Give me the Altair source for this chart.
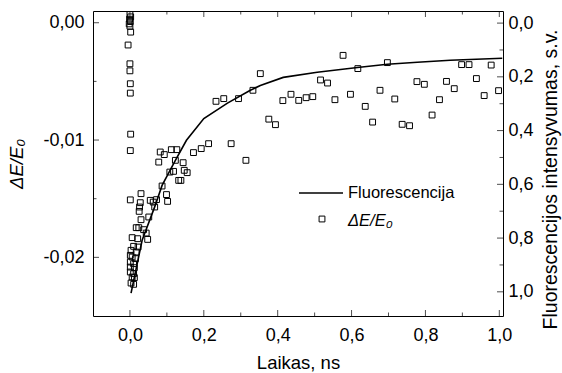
import altair as alt
import pandas as pd

# ---- data ----
t_scatter = [
    0.000, 0.002, -0.001, 0.001, -0.002, 0.000, 0.002,
    -0.005, 0.000, 0.000, 0.001, 0.001, 0.002, 0.001, 0.001,
    0.082, 0.093, 0.112, 0.127, 0.078, 0.123, 0.144, 0.108, 0.118, 0.147,
    0.155, 0.132, 0.138, 0.172, 0.193, 0.213, 0.274, 0.314, 0.087, 0.099,
    0.102, 0.030, 0.028, 0.026, 0.025, 0.030, 0.055, 0.063, 0.072, 0.067,
    0.051, 0.017, 0.024, 0.037, 0.044, 0.048, 0.006, 0.021, 0.010, 0.022,
    0.003, 0.017, 0.001, 0.006, 0.015, 0.001, 0.010, 0.001, 0.012, 0.001,
    0.010, 0.006, 0.012, 0.003, 0.010,
    0.353, 0.333, 0.294, 0.254, 0.233,
    0.376, 0.394, 0.414, 0.436, 0.457, 0.477, 0.495, 0.516, 0.535, 0.555,
    0.577, 0.597, 0.617, 0.637, 0.657, 0.677, 0.697, 0.717, 0.737, 0.757,
    0.777, 0.797, 0.818, 0.838, 0.857, 0.878, 0.898, 0.918, 0.938, 0.959,
    0.978, 0.998,
]
de_scatter = [
    0.0007, 0.0005, 0.0003, 0.0001, -0.0001, -0.0003, -0.0008,
    -0.0019, -0.0035, -0.0041, -0.0052, -0.0060, -0.0095, -0.0109, -0.0151,
    -0.01102, -0.01124, -0.01082, -0.01082, -0.01188, -0.01173, -0.01193, -0.01273, -0.01267, -0.01258,
    -0.01278, -0.01344, -0.01344, -0.01107, -0.01073, -0.01031, -0.01031, -0.01173, -0.01392, -0.01465,
    -0.01523, -0.01457, -0.01534, -0.01571, -0.01608, -0.01679, -0.01514, -0.01529, -0.01508, -0.01571,
    -0.01656, -0.01747, -0.01747, -0.01764, -0.01793, -0.01847, -0.01832, -0.01841, -0.01906, -0.01912,
    -0.01940, -0.01955, -0.01983, -0.01997, -0.02011, -0.02040, -0.02054, -0.02083, -0.02088, -0.02125,
    -0.02139, -0.02168, -0.02173, -0.02219, -0.02230,
    -0.00434, -0.00576, -0.00647, -0.00647, -0.00670,
    -0.00822, -0.00869, -0.00664, -0.00610, -0.00662, -0.00639, -0.00630, -0.00488, -0.00514, -0.00656,
    -0.00278, -0.00610, -0.00391, -0.00713, -0.00847, -0.00576, -0.00340, -0.00650, -0.00866, -0.00878,
    -0.00502, -0.00525, -0.00787, -0.00656, -0.00500, -0.00562, -0.00357, -0.00357, -0.00476, -0.00621,
    -0.00361, -0.00579,
]
t_fluor = [0.003, 0.033, 0.067, 0.087, 0.123, 0.153, 0.200, 0.264, 0.326, 0.353,
           0.415, 0.507, 0.616, 0.697, 0.778, 0.867, 1.008]
fluor = [1.005, 0.808, 0.684, 0.604, 0.511, 0.436, 0.355, 0.298, 0.250, 0.232,
         0.202, 0.183, 0.165, 0.153, 0.146, 0.138, 0.131]

x_major = [0.0, 0.2, 0.4, 0.6, 0.8, 1.0]
x_minor = [0.1, 0.3, 0.5, 0.7, 0.9]
yl_major = [0.0, -0.01, -0.02]
yl_minor = [-0.005, -0.015]
yr_major = [0.0, 0.2, 0.4, 0.6, 0.8, 1.0]
yr_minor = [0.1, 0.3, 0.5, 0.7, 0.9]

W, H = 410, 305
FONT = "Liberation Sans"
x_dom = [-0.1, 1.01]
yl_dom = [-0.025, 0.001]
yr_dom = [1.09, -0.045]

xs = alt.Scale(domain=x_dom, nice=False, zero=False)
yls = alt.Scale(domain=yl_dom, nice=False, zero=False)
yrs = alt.Scale(domain=yr_dom, nice=False, zero=False)

df_sc = pd.DataFrame({"t": t_scatter, "de": de_scatter})
df_fl = pd.DataFrame({"t": t_fluor, "f": fluor})

x_axis = alt.Axis(values=x_major, ticks=False, tickSize=0, domain=False, grid=False,
                  labelExpr="replace(format(datum.value, '.1f'), '.', ',')",
                  labelPadding=10, title="Laikas, ns", titlePadding=9)

points = alt.Chart(df_sc).mark_point(shape="square", size=34, filled=False,
                                     color="black", strokeWidth=1, opacity=1).encode(
    x=alt.X("t:Q", scale=xs, axis=x_axis),
    y=alt.Y("de:Q", scale=yls, axis=alt.Axis(
        values=yl_major, ticks=False, tickSize=0, domain=False, grid=False,
        labelExpr="replace(replace(format(datum.value, '.2f'), '.', ','), '\u2212', '-')",
        labelPadding=9, title="\u0394E/E\u2080", titleFontStyle="italic", titlePadding=16)),
)

line = alt.Chart(df_fl).mark_line(color="black", strokeWidth=1.6).encode(
    x=alt.X("t:Q", scale=xs, axis=x_axis),
    y=alt.Y("f:Q", scale=yrs, axis=alt.Axis(
        orient="right", values=yr_major, ticks=False, tickSize=0, domain=False, grid=False,
        labelExpr="replace(format(datum.value, '.1f'), '.', ',')",
        labelPadding=5, title="Fluorescencijos intensyvumas, s.v.",
        titleAngle=270, titlePadding=27, titleFontSize=19.5, titleY=168)),
)


def xticks(vals, length, top):
    d = pd.DataFrame({"t": vals})
    return alt.Chart(d).mark_tick(orient="vertical", size=length, thickness=1, color="black").encode(
        x=alt.X("t:Q", scale=xs, axis=x_axis),
        y=alt.value(length / 2 if top else H - length / 2),
    )


def yticks(vals, scale, length, right):
    d = pd.DataFrame({"v": vals})
    return alt.Chart(d).mark_tick(orient="horizontal", size=length, thickness=1, color="black").encode(
        y=alt.Y("v:Q", scale=scale, axis=None),
        x=alt.value(W - length / 2 if right else length / 2),
    )


ticks = [
    xticks(x_major, 6, False), xticks(x_minor, 3.5, False),
    xticks(x_major, 6, True), xticks(x_minor, 3.5, True),
    yticks(yl_major, yls, 6, False), yticks(yl_minor, yls, 3.5, False),
    yticks(yr_major, yrs, 6, True), yticks(yr_minor, yrs, 3.5, True),
]

# legend
one = pd.DataFrame({"a": [0]})
leg_line = alt.Chart(one).mark_rule(color="black", strokeWidth=1.6).encode(
    x=alt.value(206), x2=alt.value(250), y=alt.value(182))
leg_text1 = alt.Chart(one).mark_text(align="left", baseline="middle", font=FONT,
                                     fontSize=16.5, color="black").encode(
    x=alt.value(255), y=alt.value(182), text=alt.value("Fluorescencija"))
leg_sq = alt.Chart(one).mark_point(shape="square", size=34, filled=False, color="black",
                                   strokeWidth=1, opacity=1).encode(
    x=alt.value(229), y=alt.value(208))
leg_text2 = alt.Chart(one).mark_text(align="left", baseline="middle", font=FONT,
                                     fontSize=16.5, fontStyle="italic", color="black").encode(
    x=alt.value(255), y=alt.value(210), text=alt.value("\u0394E/E\u2080"))

chart = alt.layer(points, line, *ticks, leg_line, leg_text1, leg_sq, leg_text2).resolve_scale(
    y="independent"
).properties(
    width=W, height=H,
    background="white",
    autosize=alt.AutoSizeParams(type="none"),
    padding={"left": 93, "top": 11, "right": 59, "bottom": 57},
).configure_view(
    stroke="black", strokeWidth=1
).configure_axis(
    labelFont=FONT, labelFontSize=18, labelColor="black",
    titleFont=FONT, titleFontSize=18.5, titleFontWeight="normal", titleColor="black",
)

chart.save("out.html", embed_options={"renderer": "svg", "actions": False})
